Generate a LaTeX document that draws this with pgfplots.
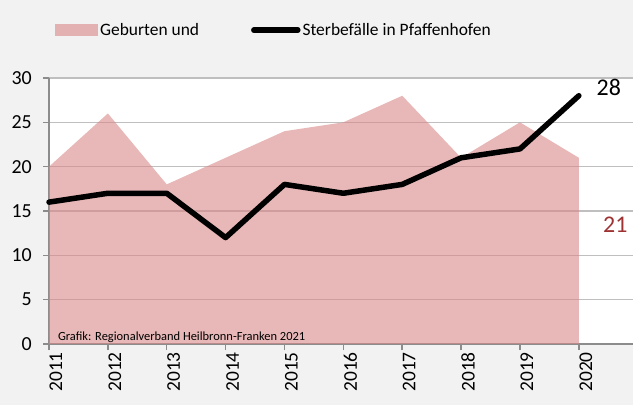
\documentclass[border=0pt]{standalone}
\usepackage{fontspec}
\setmainfont{Carlito}
\usepackage{pgfplots}
\pgfplotsset{compat=1.18}
\definecolor{bg}{RGB}{242,242,242}
\definecolor{areafill}{RGB}{218,135,135}
\definecolor{gridc}{RGB}{191,191,191}
\definecolor{axc}{RGB}{140,140,140}
\definecolor{darkred}{RGB}{158,50,50}
\begin{document}
\begin{tikzpicture}
\fill[bg] (0bp,0bp) rectangle (633bp,405bp);
\path[use as bounding box] (0bp,0bp) rectangle (633bp,405bp);
\begin{axis}[
  at={(49bp,61bp)}, anchor=south west,
  scale only axis, width=584bp, height=266bp,
  xmin=2011, xmax=2020.92, ymin=0, ymax=30,
  axis background/.style={fill=white},
  axis x line*=bottom, axis y line*=left,
  axis line style={axc, line width=1.5bp, -},
  xtick={2011,...,2020}, ytick={0,5,...,30},
  ymajorgrids, major grid style={gridc, line width=1.5bp},
  tick style={axc, line width=1.5bp},
  tick align=outside, major tick length=6bp,
  /pgf/number format/1000 sep={},
  /pgf/number format/assume math mode=true,
  xticklabel style={rotate=90, anchor=east, font=\fontsize{19.5}{22}\selectfont, inner sep=2bp, yshift=-7bp},
  yticklabel style={font=\fontsize{20}{22}\selectfont, inner sep=2bp, xshift=-9bp},
  xtick pos=bottom, ytick pos=left,
  clip=false,
  legend columns=2,
  legend cell align=left,
  legend style={at={(axis description cs:0.005,1.18)}, anchor=west, draw=none, fill=none,
    font=\fontsize{17.5}{20}\selectfont,
    /tikz/every even column/.append style={column sep=50bp}},
]
\addplot[draw=none, fill=areafill, fill opacity=0.6,
  legend image code/.code={\fill[areafill, fill opacity=0.6] (0bp,-6bp) rectangle (43bp,6bp);}]
  coordinates {(2011,20) (2012,26) (2013,18) (2014,21) (2015,24) (2016,25) (2017,28) (2018,21) (2019,25) (2020,21)} \closedcycle;
\addlegendentry{Geburten und}
\addplot[black, line width=5.5bp, line join=round, line cap=round,
  legend image code/.code={\draw[black, line width=5.5bp, line cap=round] (0bp,0bp) -- (44bp,0bp);}]
  coordinates {(2011,16) (2012,17) (2013,17) (2014,12) (2015,18) (2016,17) (2017,18) (2018,21) (2019,22) (2020,28)};
\addlegendentry{Sterbefälle in Pfaffenhofen}
\node[anchor=west, inner sep=0pt, font=\fontsize{24}{28}\selectfont] at (axis cs:2020.3,28.9) {28};
\node[anchor=west, inner sep=0pt, font=\fontsize{24}{28}\selectfont, text=darkred] at (axis cs:2020.41,13.5) {21};
\node[anchor=base west, inner sep=0pt, font=\fontsize{12.5}{14}\selectfont] at (axis cs:2011.15,0.4) {Grafik: Regionalverband Heilbronn-Franken 2021};
\end{axis}
\end{tikzpicture}
\end{document}
